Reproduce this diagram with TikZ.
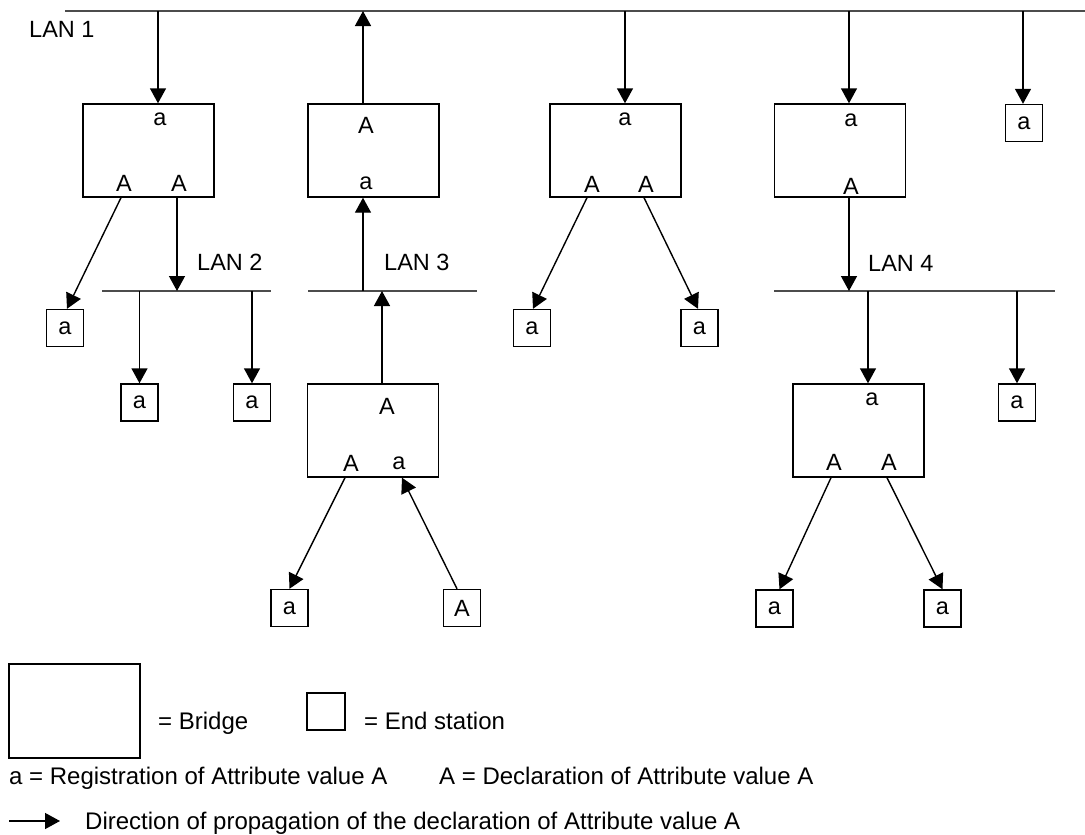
\documentclass[tikz,border=0pt]{standalone}
\usepackage{fontspec}
\setmainfont{Liberation Sans}
\usetikzlibrary{arrows.meta}

\begin{document}
\begin{tikzpicture}[x=1pt,y=-1pt,
  lan/.style={line width=1.7pt,draw=black!70},
  conn/.style={line width=1.4pt,-{Triangle[length=15pt,width=16pt]}},
  bridge/.style={draw,line width=1.4pt,minimum width=131pt,minimum height=93pt,inner sep=0pt},
  endst/.style={draw,line width=1.4pt,minimum width=37pt,minimum height=37pt,inner sep=0pt,
    font=\fontsize{23.5pt}{28pt}\selectfont},
  lbl/.style={inner sep=0pt,font=\fontsize{23.5pt}{28pt}\selectfont},
  lanlbl/.style={inner sep=0pt,anchor=base west,font=\fontsize{23.5pt}{28pt}\selectfont},
  legtxt/.style={inner sep=0pt,anchor=base west,font=\fontsize{24pt}{29pt}\selectfont}]

\useasboundingbox (0,0) rectangle (1085,835);
\fill[white] (0,0) rectangle (1085,835);

% ---- LAN segments ----
\coordinate (L1w) at (65,11);   \coordinate (L1e) at (1085,11);
\coordinate (L2w) at (102,291); \coordinate (L2e) at (271,291);
\coordinate (L3w) at (308,291); \coordinate (L3e) at (477,291);
\coordinate (L4w) at (774,291); \coordinate (L4e) at (1055,291);
\draw[lan] (L1w) -- (L1e);
\draw[lan] (L2w) -- (L2e);
\draw[lan] (L3w) -- (L3e);
\draw[lan] (L4w) -- (L4e);

\node[lanlbl] (lan1) at (29,37) {LAN 1};
\node[lanlbl] (lan2) at (197,270) {LAN 2};
\node[lanlbl] (lan3) at (384,270) {LAN 3};
\node[lanlbl] (lan4) at (868,271) {LAN 4};

% ---- bridges ----
\node[bridge] (B1) at (148.5,150.5) {};
\node[bridge] (B2) at (373.5,150.5) {};
\node[bridge] (B3) at (615.5,150.5) {};
\node[bridge] (B4) at (840,150.5) {};
\node[bridge] (B5) at (373,430.5) {};
\node[bridge] (B6) at (858.5,430.5) {};

% port markings inside bridges
\node[lbl] (B1t)  at (160,119) {a};
\node[lbl] (B1b1) at (124,183) {A};
\node[lbl] (B1b2) at (179,183) {A};
\node[lbl] (B2t)  at (366,125) {A};
\node[lbl] (B2b)  at (366,183) {a};
\node[lbl] (B3t)  at (625,119) {a};
\node[lbl] (B3b1) at (592,184) {A};
\node[lbl] (B3b2) at (646,184) {A};
\node[lbl] (B4t)  at (851,120) {a};
\node[lbl] (B4b)  at (851,186) {A};
\node[lbl] (B5t)  at (387,406) {A};
\node[lbl] (B5b1) at (351,463) {A};
\node[lbl] (B5b2) at (399,463) {a};
\node[lbl] (B6t)  at (872,399) {a};
\node[lbl] (B6b1) at (834,462) {A};
\node[lbl] (B6b2) at (889,462) {A};

% ---- end stations ----
\node[endst] (E1)  at (1024,123)   {a};
\node[endst] (E2)  at (65,328)     {a};
\node[endst] (E3)  at (139.5,402.5){a};
\node[endst] (E4)  at (252,402.5)  {a};
\node[endst] (E5)  at (532,328)    {a};
\node[endst] (E6)  at (699.5,328)  {a};
\node[endst] (E7)  at (289.5,608)  {a};
\node[endst] (E8)  at (462,608)    {A};
\node[endst] (E9)  at (1017,402.5) {a};
\node[endst] (E10) at (774.5,608.5){a};
\node[endst] (E11) at (942.5,608.5){a};

% ---- attachment points on the LANs ----
\coordinate (p1a) at (158,11);
\coordinate (p1b) at (363,11);
\coordinate (p1c) at (625,11);
\coordinate (p1d) at (849,11);
\coordinate (p1e) at (1023,11);
\coordinate (p2a) at (177,291);
\coordinate (p2b) at (139.5,291);
\coordinate (p2c) at (252,291);
\coordinate (p3a) at (363,291);
\coordinate (p3b) at (382,291);
\coordinate (p4a) at (849,291);
\coordinate (p4b) at (868,291);
\coordinate (p4c) at (1017,291);

% ---- propagation of the declaration ----
% LAN 1
\draw[conn] (p1a) -- (p1a |- B1.north);
\draw[conn] (p1b |- B2.north) -- (p1b);
\draw[conn] (p1c) -- (p1c |- B3.north);
\draw[conn] (p1d) -- (p1d |- B4.north);
\draw[conn] (p1e) -- (p1e |- E1.north);
% bridge 1 and LAN 2
\draw[conn] ([xshift=-27.5pt]B1.south) -- ([xshift=2pt]E2.north);
\draw[conn] (p2a |- B1.south) -- (p2a);
\draw[conn] (p2b) -- (p2b |- E3.north);
\draw[conn] (p2c) -- (p2c |- E4.north);
% LAN 3 and bridge 5
\draw[conn] (p3a) -- (p3a |- B2.south);
\draw[conn] (p3b |- B5.north) -- (p3b);
\draw[conn] ([xshift=-28pt]B5.south) -- (E7.north);
\draw[conn] ([xshift=-5pt]E8.north) -- ([xshift=29pt]B5.south);
% bridge 3
\draw[conn] ([xshift=-28.5pt]B3.south) -- ([xshift=1pt]E5.north);
\draw[conn] ([xshift=28.5pt]B3.south) -- ([xshift=-1.5pt]E6.north);
% bridge 4 and LAN 4
\draw[conn] (p4a |- B4.south) -- (p4a);
\draw[conn] (p4b) -- (p4b |- B6.north);
\draw[conn] (p4c) -- (p4c |- E9.north);
\draw[conn] ([xshift=-27.5pt]B6.south) -- ([xshift=5pt]E10.north);
\draw[conn] ([xshift=28.5pt]B6.south) -- (E11.north);

% ---- key ----
\node[bridge,minimum height=94pt] (kB) at (74.5,711) {};
\node[legtxt] (kBt) at (158,729) {= Bridge};
\node[endst,minimum width=38pt] (kE) at (326,711.5) {};
\node[legtxt] (kEt) at (364,729) {= End station};
\node[legtxt] (ka) at (9,784) {a = Registration of Attribute value A};
\node[legtxt] (kA) at (439,784) {A = Declaration of Attribute value A};
\coordinate (kArrS) at (9,821);
\coordinate (kArrE) at (60,821);
\draw[conn] (kArrS) -- (kArrE);
\node[legtxt] (kArr) at (85,829) {Direction of propagation of the declaration of Attribute value A};

\end{tikzpicture}
\end{document}
